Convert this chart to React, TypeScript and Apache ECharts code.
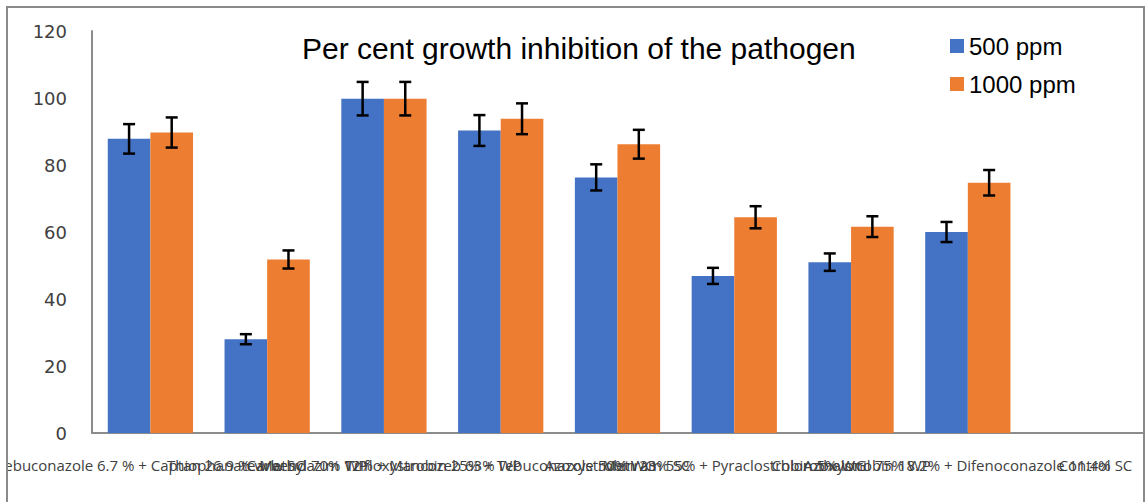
import React, { useEffect, useRef } from "react";
import * as echarts from "echarts";

const categories = [
  "Tebuconazole 6.7 % + Captan 26.9 % w/w SC",
  "Thiophanate Methyl 70% WP",
  "Carbendazim 12% + Mancozeb 63% WP",
  "Trifloxystrobin 25% + Tebuconazole 50% WG",
  "Azoxystrobin 23% SC",
  "Metiram 55% + Pyraclostrobin 5% WG",
  "Chlorothalonil 75% WP",
  "Azoxystrobin 18.2% + Difenoconazole 11.4% SC",
  "Control",
];
const seriesNames = ["500 ppm", "1000 ppm"];
const v500 = [87.8, 28.0, 99.8, 90.3, 76.3, 46.9, 51.0, 60.0, 0];
const v1000 = [89.7, 51.8, 99.8, 93.8, 86.2, 64.4, 61.6, 74.7, 0];
const err500 = [4.4, 1.5, 5.0, 4.6, 3.9, 2.4, 2.6, 3.0, 0];
const err1000 = [4.5, 2.7, 5.0, 4.6, 4.3, 3.3, 3.1, 3.8, 0];
const yTicks = { min: 0, max: 120, interval: 20 };

const CAT_GAP = 0.27;

export default function App() {
  const ref = useRef<HTMLDivElement>(null);
  useEffect(() => {
    if (!ref.current) return;
    const chart = echarts.init(ref.current, undefined, { renderer: "svg" });
    const errData: number[][] = [];
    [v500, v1000].forEach((vals, s) => {
      const errs = s === 0 ? err500 : err1000;
      vals.forEach((v, i) => {
        if (errs[i] > 0) errData.push([i, v - errs[i], v + errs[i], s]);
      });
    });
    chart.setOption({
      animation: false,
      backgroundColor: "#fff",
      title: {
        text: "Per cent growth inhibition of the pathogen",
        left: 297,
        top: 28,
        textStyle: {
          fontFamily: "Liberation Sans",
          fontSize: 30,
          fontWeight: "normal",
          color: "#000",
        },
      },
      legend: {
        orient: "vertical",
        left: 945,
        top: 29,
        itemWidth: 14,
        itemHeight: 14,
        itemGap: 14,
        icon: "rect",
        data: seriesNames,
        textStyle: {
          fontFamily: "Liberation Sans",
          fontSize: 24,
          color: "#000",
          padding: [0, 0, 0, 0],
        },
      },
      grid: {
        left: 92,
        right: 4,
        top: 31,
        bottom: 69,
        containLabel: false,
        outerBoundsMode: "none",
      },
      xAxis: {
        type: "category",
        data: categories,
        axisLine: { show: true, lineStyle: { color: "#8c8c8c", width: 2 } },
        axisTick: { show: false },
        axisLabel: {
          interval: 0,
          hideOverlap: false,
          margin: 24,
          fontFamily: "Open Sans",
          fontSize: 15,
          color: "#404040",
        },
      },
      yAxis: {
        type: "value",
        min: yTicks.min,
        max: yTicks.max,
        interval: yTicks.interval,
        splitLine: { show: false },
        axisLine: { show: true, lineStyle: { color: "#8c8c8c", width: 2 } },
        axisTick: { show: false },
        axisLabel: {
          margin: 25,
          fontFamily: "DejaVu Sans",
          fontSize: 18,
          color: "#404040",
        },
      },
      series: [
        {
          name: seriesNames[0],
          type: "bar",
          data: v500,
          barGap: "0%",
          barCategoryGap: CAT_GAP * 100 + "%",
          itemStyle: { color: "#4472C4" },
        },
        {
          name: seriesNames[1],
          type: "bar",
          data: v1000,
          barGap: "0%",
          barCategoryGap: CAT_GAP * 100 + "%",
          itemStyle: { color: "#ED7D31" },
        },
        {
          type: "custom",
          data: errData,
          z: 10,
          encode: { x: 0, y: [1, 2] },
          renderItem: (params: any, api: any) => {
            const cat = api.value(0);
            const lo = api.value(1);
            const hi = api.value(2);
            const s = api.value(3);
            const top = api.coord([cat, hi]);
            const bot = api.coord([cat, lo]);
            const bw = (api.size([1, 0])[0] * (1 - CAT_GAP)) / 2;
            const x = top[0] + (s === 0 ? -bw / 2 : bw / 2);
            const cap = 6;
            const style = { stroke: "#000", lineWidth: 2.5 };
            return {
              type: "group",
              children: [
                { type: "line", shape: { x1: x, y1: top[1], x2: x, y2: bot[1] }, style },
                { type: "line", shape: { x1: x - cap, y1: top[1], x2: x + cap, y2: top[1] }, style },
                { type: "line", shape: { x1: x - cap, y1: bot[1], x2: x + cap, y2: bot[1] }, style },
              ],
            };
          },
        },
      ],
      graphic: [
        { type: "rect", z: 100, shape: { x: 0, y: 0, width: 7, height: 502 }, style: { fill: "#fff" } },
        { type: "rect", z: 100, shape: { x: 1145, y: 0, width: 10, height: 502 }, style: { fill: "#fff" } },
        {
          type: "rect",
          z: 101,
          shape: { x: 7, y: 7, width: 1137, height: 530 },
          style: { fill: "none", stroke: "#8a8a8a", lineWidth: 2 },
        },
      ],
    });
    return () => chart.dispose();
  }, []);
  return (
    <div
      ref={ref}
      style={{ position: "fixed", left: 0, top: 0, width: 1147, height: 502 }}
    />
  );
}
